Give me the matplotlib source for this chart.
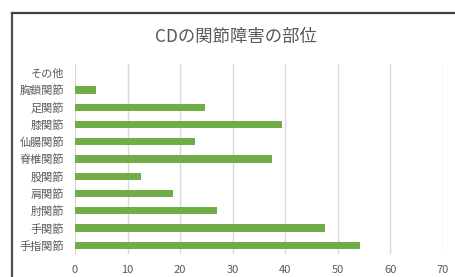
import matplotlib.pyplot as plt
from matplotlib.lines import Line2D

plt.rcParams['font.family'] = ['Noto Sans CJK JP', 'DejaVu Sans']

# bottom to top, as drawn
joints = ['手指関節', '手関節', '肘関節', '肩関節', '股関節', '脊椎関節',
          '仙腸関節', '膝関節', '足関節', '胸鎖関節', 'その他']
values = [54.2, 47.6, 27, 18.7, 12.5, 37.5, 22.9, 39.4, 24.8, 4, 0]
xticks = [0, 10, 20, 30, 40, 50, 60, 70]

W, H = 455, 277
fig = plt.figure(figsize=(W / 100, H / 100), dpi=100)
ax = fig.add_axes([75 / W, 1 - 254 / H, (443 - 75) / W, (254 - 64) / H])

ax.barh(range(len(joints)), values, height=0.42, color='#70AD47', zorder=3)
ax.set_xlim(0, 70)
ax.set_ylim(-0.5, len(joints) - 0.5)
ax.set_xticks(xticks)
ax.set_yticks(range(len(joints)))
ax.set_yticklabels(joints)
ax.grid(axis='x', color='#d9d9d9', linewidth=1, zorder=0)
ax.tick_params(length=0, labelsize=8, colors='#595959', pad=8)
ax.tick_params(axis='x', pad=8)
for s in ax.spines.values():
    s.set_visible(False)

fig.text(236 / W, 1 - 37 / H, 'CDの関節障害の部位', ha='center', va='center',
         fontsize=12.5, color='#595959')

# chart frame (left and top edges visible)
fig.add_artist(Line2D([12 / W, 12 / W], [0, 1 - 13 / H], color='#505050', lw=1.6))
fig.add_artist(Line2D([12 / W, 1], [1 - 13 / H, 1 - 13 / H], color='#404040', lw=1.6))

fig.savefig('out.png', dpi=100)
